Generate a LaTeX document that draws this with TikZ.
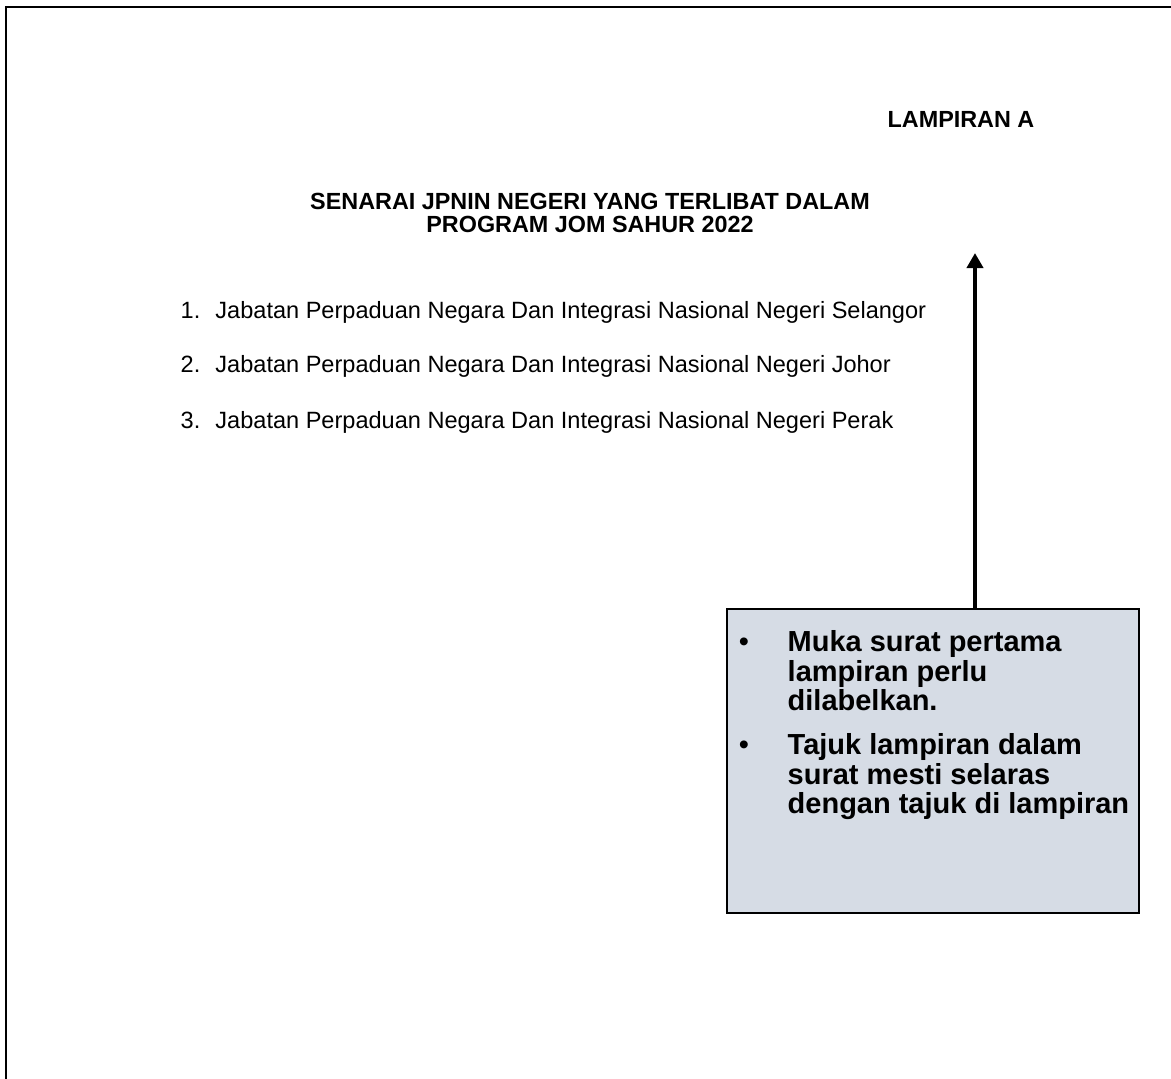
\documentclass[tikz,border=0pt]{standalone}
\usepackage{fontspec}
\setmainfont{Liberation Sans}
\usetikzlibrary{arrows.meta}
\definecolor{notefill}{HTML}{D6DCE5}

\begin{document}
\begin{tikzpicture}[
        x=0.02cm,
        y=-0.02cm,
        thick
    ]
    \tikzset{
        heading/.style = {inner sep=0pt, anchor=base, font=\fontsize{13.3}{15}\selectfont\bfseries},
        entry/.style = {inner sep=0pt, anchor=base west, font=\fontsize{13.4}{16}\selectfont},
        notebox/.style = {rectangle, draw=black, line width=1.1pt, fill=notefill, minimum width=8.24cm, minimum height=6.08cm, inner sep=0pt},
        notetext/.style = {inner sep=0pt, anchor=north west, align=left, font=\fontsize{16.5}{16.7}\selectfont\bfseries},
        notedot/.style = {inner sep=0pt, anchor=base, font=\fontsize{16.5}{16.7}\selectfont},
        pointer/.style = {-{Triangle[width=0.32cm,length=0.3cm]}, line width=2.3pt},
        frame/.style = {line width=1.2pt},
    }
    \useasboundingbox (0,0) rectangle (1171,1079);
    \draw[frame] (6,1079) -- (6,7) -- (1171,7);
    %
    \node[heading] at (961,127) (lampiran) {LAMPIRAN A};
    \node[heading] at (590,209) (title) {SENARAI JPNIN NEGERI YANG TERLIBAT DALAM};
    \node[heading] at (590,232) (subtitle) {PROGRAM JOM SAHUR 2022};
    %
    \node[entry] at (180,318) (item1) {\makebox[19.8pt][l]{1.}Jabatan Perpaduan Negara Dan Integrasi Nasional Negeri Selangor};
    \node[entry] at (180,372) (item2) {\makebox[19.8pt][l]{2.}Jabatan Perpaduan Negara Dan Integrasi Nasional Negeri Johor};
    \node[entry] at (180,428) (item3) {\makebox[19.8pt][l]{3.}Jabatan Perpaduan Negara Dan Integrasi Nasional Negeri Perak};
    %
    \node[notebox] at (933,761) (note) {};
    \node[notedot] at (744,651) (dot1) {•};
    \node[notetext] at (787,630) (tip1) {Muka surat pertama\\lampiran perlu\\dilabelkan.};
    \node[notedot] at (744,754) (dot2) {•};
    \node[notetext] at (787,733) (tip2) {Tajuk lampiran dalam\\surat mesti selaras\\dengan tajuk di lampiran};
    %
    \coordinate (tip) at (975,253);
    \draw[pointer] (note.north -| tip) -- (tip);
\end{tikzpicture}
\end{document}
